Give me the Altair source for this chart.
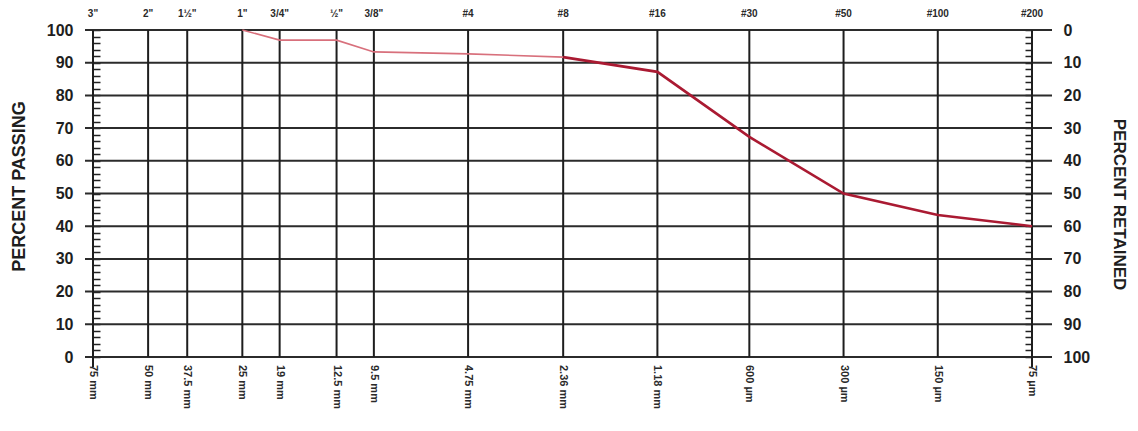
import altair as alt
import pandas as pd

# Sieve sizes (mm) and their labels
sieve_mm = [75, 50, 37.5, 25, 19, 12.5, 9.5, 4.75, 2.36, 1.18, 0.6, 0.3, 0.15, 0.075]
sieve_top = ['3"', '2"', '1½"', '1"', '3/4"', '½"', '3/8"', '#4', '#8', '#16', '#30', '#50', '#100', '#200']
sieve_bottom = ['75 mm', '50 mm', '37.5 mm', '25 mm', '19 mm', '12.5 mm', '9.5 mm', '4.75 mm',
                '2.36 mm', '1.18 mm', '600 µm', '300 µm', '150 µm', '75 µm']

# Gradation curve (percent passing)
coarse_mm = [25, 19, 12.5, 9.5, 4.75, 2.36]
coarse_pass = [100, 96.9, 96.9, 93.3, 92.7, 91.7]
fine_mm = [2.36, 1.18, 0.6, 0.3, 0.15, 0.075]
fine_pass = [91.7, 87.2, 67.3, 50.0, 43.4, 40.0]

major_y = [0, 10, 20, 30, 40, 50, 60, 70, 80, 90, 100]
minor_y = [0, 2, 4, 6, 8, 10, 12, 14, 16, 18, 20, 22, 24, 26, 28, 30, 32, 34, 36, 38, 40,
           42, 44, 46, 48, 50, 52, 54, 56, 58, 60, 62, 64, 66, 68, 70, 72, 74, 76, 78, 80,
           82, 84, 86, 88, 90, 92, 94, 96, 98, 100]

W, H = 939, 327
FONT = "Liberation Sans"

sieves = pd.DataFrame({"mm": sieve_mm, "top": sieve_top, "bottom": sieve_bottom})
grid_y = pd.DataFrame({"v": major_y})
tick_y = pd.DataFrame({"v": minor_y})
coarse = pd.DataFrame({"mm": coarse_mm, "p": coarse_pass})
fine = pd.DataFrame({"mm": fine_mm, "p": fine_pass})
one = pd.DataFrame({"a": [0]})

xscale = alt.Scale(type="log", domain=[75, 0.075], nice=False, zero=False)
yscale = alt.Scale(domain=[0, 100], nice=False, zero=False)
yscale_r = alt.Scale(domain=[0, 100], reverse=True, nice=False, zero=False)

label_expr = "datum.value % 10 == 0 ? datum.label : ''"

hgrid = alt.Chart(grid_y).mark_rule(color="#2b2b2b", strokeWidth=2).encode(
    y=alt.Y("v:Q", scale=yscale, axis=None),
    x=alt.value(-8), x2=alt.value(W + 20),
)

left_ticks = alt.Chart(tick_y).mark_rule(strokeOpacity=0).encode(
    y=alt.Y("v:Q", scale=yscale, axis=alt.Axis(
        values=minor_y, labelExpr=label_expr, orient="left", offset=-7, tickSize=7,
        tickColor="#222", tickWidth=1.5, domain=False, grid=False, title=None,
        labelPadding=20, labelFont=FONT, labelFontWeight="bold", labelFontSize=16,
        labelColor="#1e1e1e")),
    x=alt.value(0),
)

right_ticks = alt.Chart(tick_y).mark_rule(strokeOpacity=0).encode(
    y=alt.Y("v:Q", scale=yscale_r, axis=alt.Axis(
        values=minor_y, labelExpr=label_expr, orient="right", offset=-7, tickSize=7,
        tickColor="#222", tickWidth=1.5, domain=False, grid=False, title=None,
        labelPadding=31, labelFont=FONT, labelFontWeight="bold", labelFontSize=16,
        labelColor="#1e1e1e")),
    x=alt.value(W),
)

vgrid = alt.Chart(sieves).mark_rule(color="#1e1e1e", strokeWidth=2).encode(
    x=alt.X("mm:Q", scale=xscale, axis=None),
    y=alt.value(0), y2=alt.value(H),
)

vedge = alt.Chart(sieves).transform_filter(
    "datum.mm == 75 || datum.mm == 0.075"
).mark_rule(color="#1e1e1e", strokeWidth=2).encode(
    x=alt.X("mm:Q", scale=xscale, axis=None),
    y=alt.value(0), y2=alt.value(H + 10),
)

line_coarse = alt.Chart(coarse).mark_line(color="#d8707c", strokeWidth=1.6).encode(
    x=alt.X("mm:Q", scale=xscale, axis=None),
    y=alt.Y("p:Q", scale=yscale, axis=None),
)

line_fine = alt.Chart(fine).mark_line(color="#aa1a32", strokeWidth=2.6).encode(
    x=alt.X("mm:Q", scale=xscale, axis=None),
    y=alt.Y("p:Q", scale=yscale, axis=None),
)

top_text = alt.Chart(sieves).mark_text(
    font=FONT, fontWeight="bold", fontSize=10, color="#2a2a2a", baseline="middle"
).encode(
    x=alt.X("mm:Q", scale=xscale, axis=None),
    y=alt.value(-16),
    text="top:N",
)

bottom_text = alt.Chart(sieves).mark_text(
    font=FONT, fontWeight="bold", fontSize=11, color="#2a2a2a", angle=90,
    align="left", baseline="middle"
).encode(
    x=alt.X("mm:Q", scale=xscale, axis=None),
    y=alt.value(H + 8),
    text="bottom:N",
)

left_title = alt.Chart(one).mark_text(
    text="PERCENT PASSING", font=FONT, fontWeight="bold", fontSize=18, color="#1e1e1e",
    angle=270, align="center", baseline="middle"
).encode(x=alt.value(-73), y=alt.value(156.5))

right_title = alt.Chart(one).mark_text(
    text="PERCENT RETAINED", font=FONT, fontWeight="bold", fontSize=17, color="#1e1e1e",
    angle=90, align="center", baseline="middle"
).encode(x=alt.value(1026), y=alt.value(174.5))

chart = alt.layer(
    hgrid, vgrid, vedge, left_ticks, right_ticks, line_coarse, line_fine,
    top_text, bottom_text, left_title, right_title
).resolve_scale(y="independent").properties(
    width=W, height=H,
    autosize=alt.AutoSizeParams(type="none"),
    padding={"left": 85, "top": 22, "right": 98, "bottom": 66},
    background="white",
).configure_view(stroke=None)

chart.save("out.html", embed_options={"renderer": "svg", "actions": False})
